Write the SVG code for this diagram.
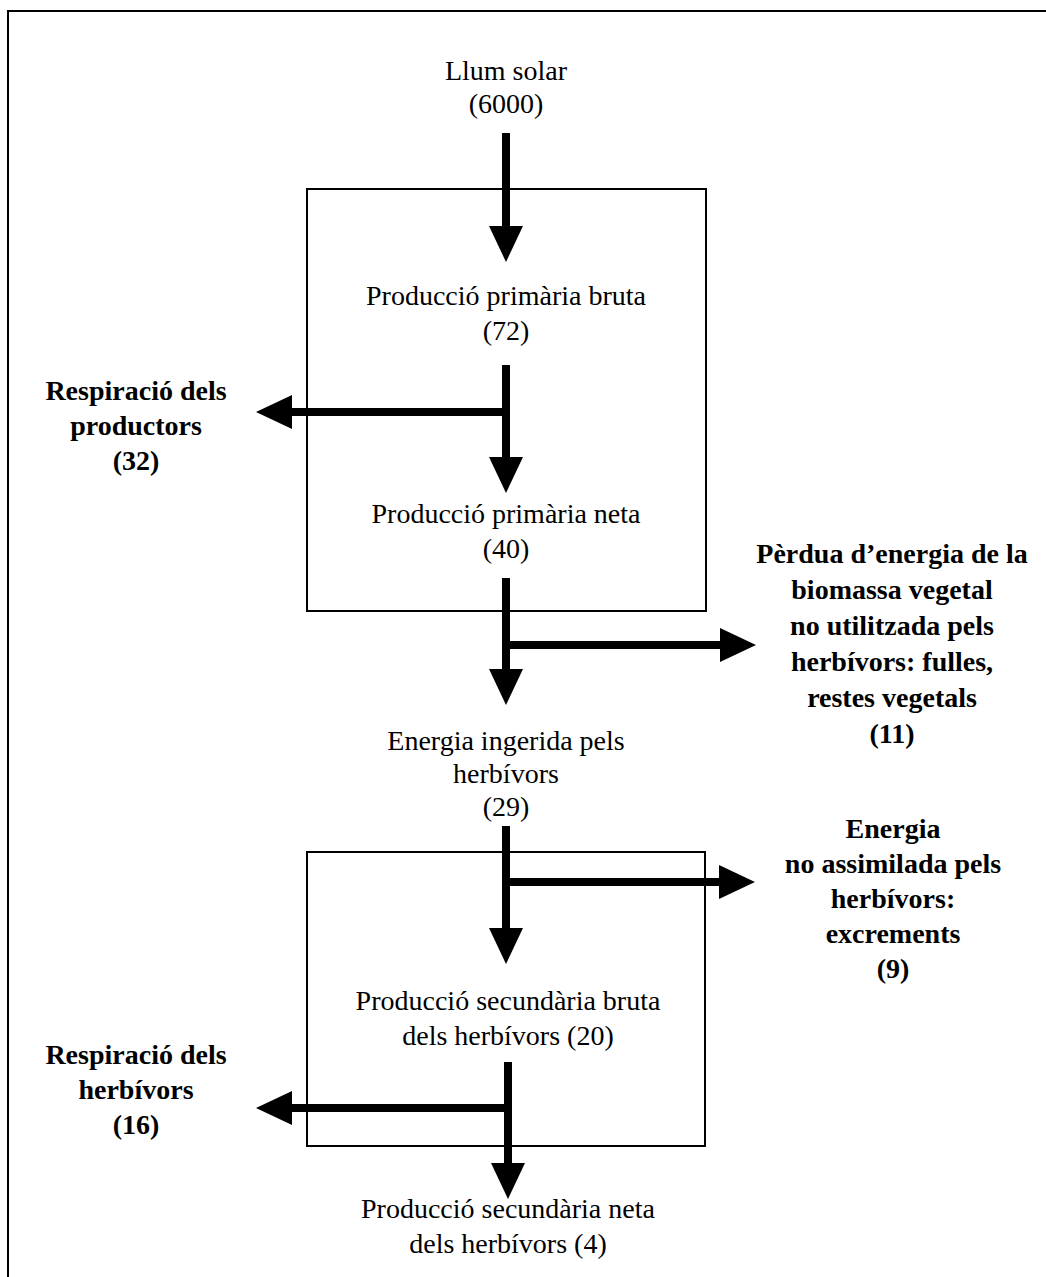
<svg xmlns="http://www.w3.org/2000/svg" width="1046" height="1277" viewBox="0 0 1046 1277">
<style>
.t{font-family:"Liberation Serif","Times New Roman",serif;font-size:28px;fill:#000;text-anchor:middle}
.b{font-weight:bold}
.box{fill:none;stroke:#000;stroke-width:2}
.c{fill:none;stroke:#000;stroke-width:8;marker-end:url(#ah)}
</style>
<defs>
<marker id="ah" viewBox="0 0 36 34" refX="0" refY="17" markerWidth="36" markerHeight="34" markerUnits="userSpaceOnUse" orient="auto">
<path d="M0,0 L36,17 L0,34 Z" fill="#000"/>
</marker>
</defs>
<rect width="1046" height="1277" fill="#fff"/>
<path d="M8,1277 V11 H1046" fill="none" stroke="#000" stroke-width="2"/>
<g id="box-primary"><rect class="box" x="307" y="189" width="399" height="422"/></g>
<g id="box-secondary"><rect class="box" x="307" y="852" width="398" height="294"/></g>
<g id="connectors">
<path class="c" d="M506,133 V226"/>
<path class="c" d="M506,365 V457"/>
<path class="c" d="M506,412 H292"/>
<path class="c" d="M506,578 V669"/>
<path class="c" d="M506,645 H720"/>
<path class="c" d="M506,826 V928"/>
<path class="c" d="M506,882 H719"/>
<path class="c" d="M508,1062 V1163"/>
<path class="c" d="M508,1108 H292"/>
</g>
<g id="llum-solar"><text class="t" x="506" y="80">Llum solar<tspan x="506" dy="33">(6000)</tspan></text></g>
<g id="ppb"><text class="t" x="506" y="305">Producció primària bruta<tspan x="506" dy="35">(72)</tspan></text></g>
<g id="resp-prod"><text class="t b" x="136" y="400">Respiració dels<tspan x="136" dy="35">productors</tspan><tspan x="136" dy="35">(32)</tspan></text></g>
<g id="ppn"><text class="t" x="506" y="523">Producció primària neta<tspan x="506" dy="35">(40)</tspan></text></g>
<g id="perdua"><text class="t b" x="892" y="563">Pèrdua d’energia de la<tspan x="892" dy="36">biomassa vegetal</tspan><tspan x="892" dy="36">no utilitzada pels</tspan><tspan x="892" dy="36">herbívors: fulles,</tspan><tspan x="892" dy="36">restes vegetals</tspan><tspan x="892" dy="36">(11)</tspan></text></g>
<g id="ingerida"><text class="t" x="506" y="750">Energia ingerida pels<tspan x="506" dy="33">herbívors</tspan><tspan x="506" dy="33">(29)</tspan></text></g>
<g id="no-assimilada"><text class="t b" x="893" y="838">Energia<tspan x="893" dy="35">no assimilada pels</tspan><tspan x="893" dy="35">herbívors:</tspan><tspan x="893" dy="35">excrements</tspan><tspan x="893" dy="35">(9)</tspan></text></g>
<g id="psb"><text class="t" x="508" y="1010">Producció secundària bruta<tspan x="508" dy="35">dels herbívors (20)</tspan></text></g>
<g id="resp-herb"><text class="t b" x="136" y="1064">Respiració dels<tspan x="136" dy="35">herbívors</tspan><tspan x="136" dy="35">(16)</tspan></text></g>
<g id="psn"><text class="t" x="508" y="1218">Producció secundària neta<tspan x="508" dy="35">dels herbívors (4)</tspan></text></g>
</svg>
